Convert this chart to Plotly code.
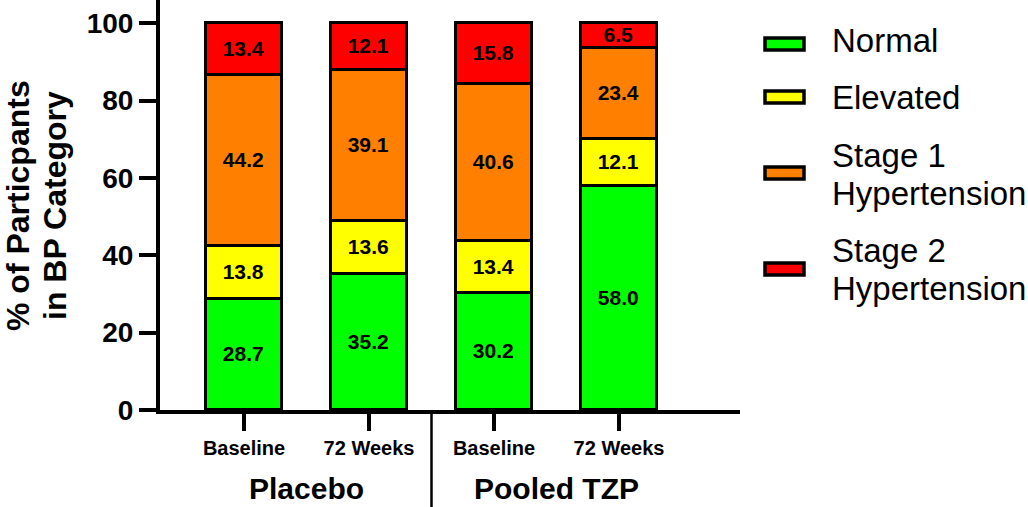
import plotly.graph_objects as go

# ---------------- data ----------------
x_positions = [0, 1, 2, 3]
tick_labels = ["Baseline", "72 Weeks", "Baseline", "72 Weeks"]
group_labels = ["Placebo", "Pooled TZP"]
group_centers = [0.5, 2.5]

categories = ["Normal", "Elevated", "Stage 1<br>Hypertension", "Stage 2<br>Hypertension"]
normal = [28.7, 35.2, 30.2, 58.0]
elevated = [13.8, 13.6, 13.4, 12.1]
stage1 = [44.2, 39.1, 40.6, 23.4]
stage2 = [13.4, 12.1, 15.8, 6.5]
series = [normal, elevated, stage1, stage2]
colors = ["#00FF00", "#FFFF00", "#FF8000", "#FF0000"]

FONT = "Liberation Sans, Arial, sans-serif"
NARROW = "Liberation Sans Narrow, Arial Narrow, Liberation Sans, Arial, sans-serif"

# plot area geometry in pixels (used only for placing legend / titles)
L, R, T, B = 160, 740, 0, 410
W, H = 1028, 507


def px_x(p):
    return (p - L) / (R - L)


def px_y(p):
    return (B - p) / (B - T)


fig = go.Figure()
for name, vals, col in zip(categories, series, colors):
    fig.add_trace(go.Bar(
        x=x_positions, y=vals, name=name,
        marker=dict(color=col, line=dict(color="black", width=3.5)),
        width=0.61,
        texttemplate="%{y:.1f}",
        textposition="inside", insidetextanchor="middle",
        constraintext="none", textangle=0,
        textfont=dict(family=FONT, size=21, color="black", weight="bold"),
        showlegend=False, hoverinfo="skip",
        cliponaxis=False,
    ))

fig.update_layout(
    barmode="stack",
    width=W, height=H,
    margin=dict(l=L, r=W - R, t=T, b=H - B, pad=0, autoexpand=False),
    plot_bgcolor="white", paper_bgcolor="white",
    showlegend=False,
    bargap=0,
)

fig.update_xaxes(
    range=[-0.672, 3.968], automargin=False,
    tickmode="array", tickvals=x_positions, ticktext=tick_labels,
    ticks="outside", ticklen=17, tickwidth=3.5, tickcolor="black",
    showline=True, linecolor="black", linewidth=4,
    showgrid=False, zeroline=False,
    tickfont=dict(family=NARROW, size=20, color="black", weight="bold"),
)
fig.update_yaxes(
    range=[0, 106], automargin=False,
    tickmode="array", tickvals=[0, 20, 40, 60, 80, 100],
    ticks="outside", ticklen=17, tickwidth=3.5, tickcolor="black",
    showline=True, linecolor="black", linewidth=4,
    showgrid=False, zeroline=False,
    tickfont=dict(family=FONT, size=28, color="black", weight="bold"),
)

# group labels
for lab, cx in zip(group_labels, group_centers):
    fig.add_annotation(
        x=cx, xref="x", y=px_y(488), yref="paper",
        text=lab, showarrow=False, xanchor="center", yanchor="middle",
        font=dict(family=FONT, size=30, color="black", weight="bold"),
    )

# separator between groups
fig.add_shape(type="line", xref="x", yref="paper",
              x0=1.5, x1=1.5, y0=px_y(410), y1=px_y(507),
              line=dict(color="black", width=2.5))

# y-axis title (two lines)
for txt, cx in [("% of Particpants", 18), ("in BP Category", 55)]:
    fig.add_annotation(
        x=px_x(cx), xref="paper", y=px_y(206), yref="paper",
        text=txt, textangle=-90, showarrow=False,
        xanchor="center", yanchor="middle",
        font=dict(family=FONT, size=32, color="black", weight="bold"),
    )

# custom legend
legend_swatch_y = [44, 97, 173, 269]
legend_text_y = [[41], [97], [155, 193], [250, 288]]
for name, col, sy, ty in zip(categories, colors, legend_swatch_y, legend_text_y):
    fig.add_shape(type="rect", xref="paper", yref="paper",
                  x0=px_x(765), x1=px_x(804), y0=px_y(sy - 6), y1=px_y(sy + 6),
                  fillcolor=col, line=dict(color="black", width=3.5))
    for line_txt, yy in zip(name.split("<br>"), ty):
        fig.add_annotation(
            x=px_x(830), xref="paper", y=px_y(yy), yref="paper",
            text=line_txt, showarrow=False, xanchor="left", yanchor="middle",
            font=dict(family=FONT, size=33, color="black"),
        )

fig.write_html(
    "out.html",
    config={"displayModeBar": False},
    post_script="document.body.style.margin='0';document.body.style.overflow='hidden';",
)
